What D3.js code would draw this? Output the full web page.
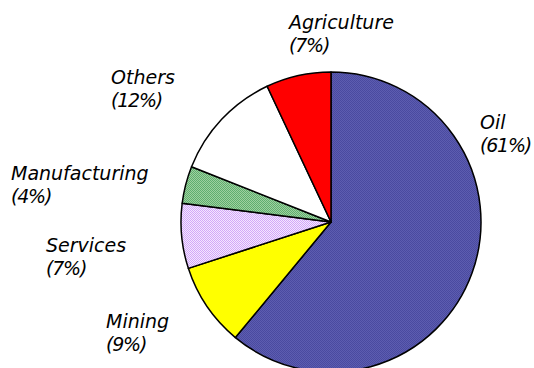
<!DOCTYPE html>
<html><head><meta charset="utf-8">
<script src="https://cdn.jsdelivr.net/npm/d3@7"></script>
<style>html,body{margin:0;padding:0;background:#fff;}svg{display:block;}</style>
</head><body>
<script>
const categories = ["Oil","Mining","Services","Manufacturing","Others","Agriculture"];
const values = [61, 9, 7, 4, 12, 7];
const labelLines = [["Oil","(61%)"],["Mining","(9%)"],["Services","(7%)"],["Manufacturing","(4%)"],["Others","(12%)"],["Agriculture","(7%)"]];

const W = 534, H = 368;
const svg = d3.select("body").append("svg").attr("width", W).attr("height", H);
const defs = svg.append("defs");
function checker(id, a, b) {
  const p = defs.append("pattern").attr("id", id).attr("patternUnits","userSpaceOnUse")
    .attr("width", 2).attr("height", 2);
  p.append("rect").attr("width",2).attr("height",2).attr("fill", a);
  p.append("rect").attr("width",1).attr("height",1).attr("fill", b);
  p.append("rect").attr("x",1).attr("y",1).attr("width",1).attr("height",1).attr("fill", b);
}
checker("pOil", "#4a4aa0", "#5d5db0");
checker("pSrv", "#d2a8f8", "#f4e6ff");
checker("pMan", "#5fae6f", "#9fd09f");
const fills = {Oil:"url(#pOil)", Mining:"#ffff00", Services:"url(#pSrv)", Manufacturing:"url(#pMan)", Others:"#ffffff", Agriculture:"#ff0000"};

const cx = 331, cy = 222, r = 150;
const pie = d3.pie().sort(null).value(d => d.v).startAngle(0).endAngle(2*Math.PI);
const data = categories.map((c,i) => ({c, v: values[i]}));
const arc = d3.arc().innerRadius(0).outerRadius(r);
const g = svg.append("g").attr("transform", `translate(${cx},${cy})`);
g.selectAll("path").data(pie(data)).join("path")
  .attr("d", arc).attr("fill", d => fills[d.data.c])
  .attr("stroke", "#000").attr("stroke-width", 1.5).attr("stroke-linejoin","round");

// label anchor positions (x, first baseline)
const labelPos = {Oil:[480,129], Mining:[106,328], Services:[46,252], Manufacturing:[11,180], Others:[111,84], Agriculture:[289,29]};
const lg = svg.append("g").attr("font-family", "'DejaVu Sans', Verdana, sans-serif")
  .attr("font-style", "italic").attr("font-size", 19).attr("fill", "#000");
categories.forEach((c,i) => {
  const [x,y] = labelPos[c];
  const t = lg.append("text").attr("x", x).attr("y", y);
  labelLines[i].forEach((ln,j) => t.append("tspan").attr("x", x).attr("dy", j ? 23 : 0)
    .attr("letter-spacing", j ? -1.2 : 0).text(ln));
});
</script>
</body></html>
